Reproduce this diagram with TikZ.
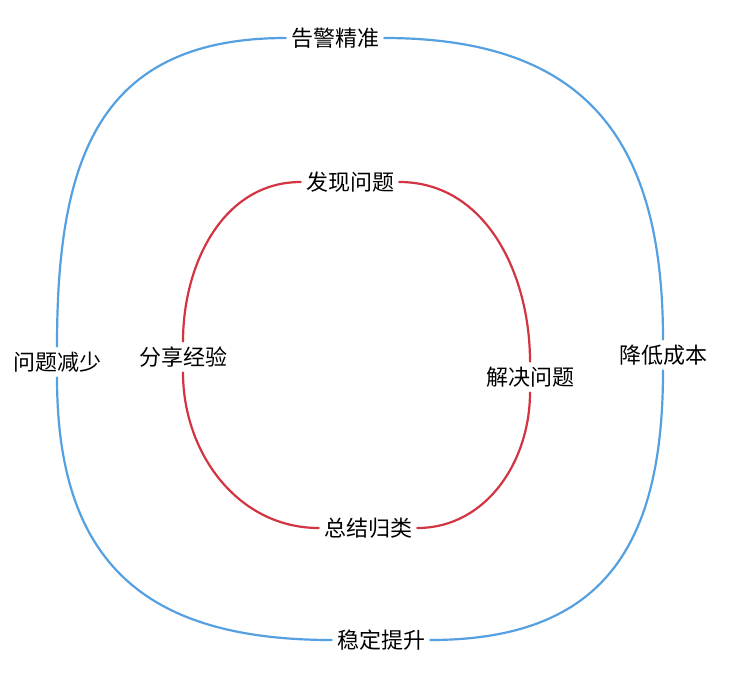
\documentclass[tikz,border=0pt]{standalone}
\usepackage{fontspec}
\setmainfont{Noto Sans CJK SC}
\definecolor{myblue}{RGB}{84,160,225}
\definecolor{myred}{RGB}{210,52,66}
\tikzset{
  lbl/.style={font=\fontsize{22}{26}\selectfont, inner sep=5pt},
  outer/.style={color=myblue, line width=2.2pt, line cap=round},
  inner/.style={color=myred, line width=2.2pt, line cap=round}
}
\begin{document}
\begin{tikzpicture}[x=1pt, y=-1pt]
  \useasboundingbox (0,0) rectangle (736,683);
  % outer ring
  \node[lbl] (gj) at (335,38) {告警精准};
  \node[lbl] (jd) at (663,355) {降低成本};
  \node[lbl] (wd) at (381,640) {稳定提升};
  \node[lbl] (wt) at (57,362) {问题减少};
  \draw[outer] (gj.east) to[out=0, in=90, looseness=1.25] (jd.north);
  \draw[outer] (jd.south) to[out=-90, in=0, looseness=1.25] (wd.east);
  \draw[outer] (wd.west) to[out=180, in=-90, looseness=1.25] (wt.south);
  \draw[outer] (wt.north) to[out=90, in=180, looseness=1.25] (gj.west);
  % inner ring
  \node[lbl] (fx) at (350,182) {发现问题};
  \node[lbl] (jj) at (530,377) {解决问题};
  \node[lbl] (zj) at (368,528) {总结归类};
  \node[lbl] (fj) at (183,357) {分享经验};
  \draw[inner] (fx.east) to[out=0, in=90] (jj.north);
  \draw[inner] (jj.south) to[out=-90, in=0] (zj.east);
  \draw[inner] (zj.west) to[out=180, in=-90] (fj.south);
  \draw[inner] (fj.north) to[out=90, in=180] (fx.west);
\end{tikzpicture}
\end{document}
